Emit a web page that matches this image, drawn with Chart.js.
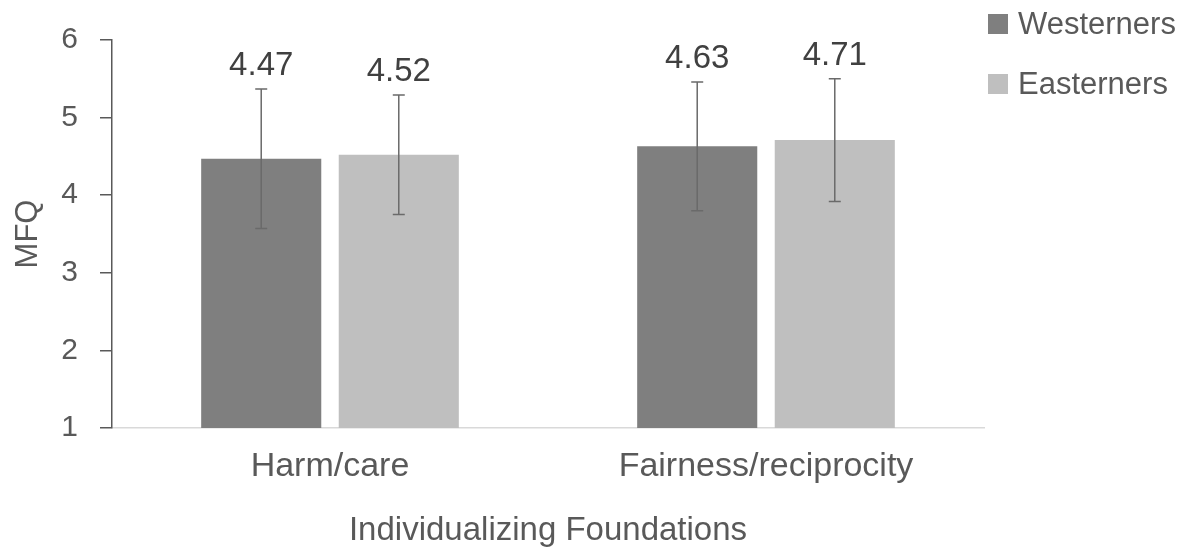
<!DOCTYPE html>
<html>
<head>
<meta charset="utf-8">
<script src="https://cdn.jsdelivr.net/npm/chart.js@4"></script>
<style>
  html, body { margin: 0; padding: 0; background: #ffffff; }
  #wrap { width: 1199px; height: 553px; }
</style>
</head>
<body>
<div id="wrap"><canvas id="chart" width="1199" height="553"></canvas></div>
<script>
// Moral Foundations Questionnaire scores, individualizing foundations
const categories = ['Harm/care', 'Fairness/reciprocity'];
const seriesNames = ['Westerners', 'Easterners'];
const westerners = [4.47, 4.63];
const easterners = [4.52, 4.71];
// standard deviations shown as error bars
const westernersSD = [0.90, 0.83];
const easternersSD = [0.77, 0.79];
const yTicks = [1, 2, 3, 4, 5, 6];

const FONT = "'Liberation Sans', Arial, sans-serif";
const TEXT = '#595959';

// Error bars and value labels drawn through the y scale
const errorBarPlugin = {
  id: 'errorBars',
  afterDatasetsDraw(chart) {
    const { ctx, scales: { y } } = chart;
    chart.data.datasets.forEach((ds, i) => {
      const meta = chart.getDatasetMeta(i);
      meta.data.forEach((bar, j) => {
        const v = ds.data[j];
        const e = ds.errors[j];
        const yTop = y.getPixelForValue(v + e);
        const yBot = y.getPixelForValue(v - e);
        const x = bar.x;
        ctx.save();
        ctx.strokeStyle = '#6a6a6a';
        ctx.lineWidth = 1.5;
        ctx.beginPath();
        ctx.moveTo(x, yTop); ctx.lineTo(x, yBot);
        ctx.moveTo(x - 6, yTop); ctx.lineTo(x + 6, yTop);
        ctx.moveTo(x - 6, yBot); ctx.lineTo(x + 6, yBot);
        ctx.stroke();
        ctx.fillStyle = '#404040';
        ctx.font = '33px ' + FONT;
        ctx.textAlign = 'center';
        ctx.textBaseline = 'middle';
        ctx.fillText(v.toFixed(2), x, yTop - 23);
        ctx.restore();
      });
    });
  }
};

// Legend to the right of the plot
const sideLegend = {
  id: 'sideLegend',
  afterDraw(chart) {
    const { ctx } = chart;
    chart.data.datasets.forEach((ds, i) => {
      const cy = 24 + i * 60;
      ctx.save();
      ctx.fillStyle = ds.backgroundColor;
      ctx.fillRect(988, cy - 10, 20, 20);
      ctx.fillStyle = TEXT;
      ctx.font = '31px ' + FONT;
      ctx.textAlign = 'left';
      ctx.textBaseline = 'middle';
      ctx.fillText(ds.label, 1018, cy + 1);
      ctx.restore();
    });
  }
};

new Chart(document.getElementById('chart'), {
  type: 'bar',
  data: {
    labels: categories,
    datasets: [
      { label: seriesNames[0], data: westerners, errors: westernersSD, backgroundColor: '#7f7f7f',
        categoryPercentage: 0.631, barPercentage: 0.873 },
      { label: seriesNames[1], data: easterners, errors: easternersSD, backgroundColor: '#bfbfbf',
        categoryPercentage: 0.631, barPercentage: 0.873 }
    ]
  },
  options: {
    responsive: false,
    animation: false,
    layout: { padding: { left: 0, right: 215, top: 40, bottom: 0 } },
    plugins: {
      legend: { display: false },
      tooltip: { enabled: false }
    },
    scales: {
      x: {
        grid: { display: false, drawTicks: false },
        border: { display: true, color: '#d9d9d9', width: 1.5 },
        ticks: { color: TEXT, font: { family: FONT, size: 34 }, padding: 18 },
        title: { display: true, text: 'Individualizing Foundations', color: TEXT,
                 font: { family: FONT, size: 33 }, padding: { top: 0, bottom: 2 } },
        afterFit(scale) { scale.height = 125; }
      },
      y: {
        min: 1, max: 6,
        afterBuildTicks(scale) { scale.ticks = yTicks.map(v => ({ value: v })); },
        grid: { drawOnChartArea: false, drawTicks: true, tickLength: 12, color: '#595959', lineWidth: 1.5 },
        border: { display: true, color: '#595959', width: 1.5 },
        ticks: { color: TEXT, font: { family: FONT, size: 30 }, padding: 22 },
        title: { display: true, text: 'MFQ', color: TEXT,
                 font: { family: FONT, size: 31 }, padding: { top: 10, bottom: 0 } },
        afterFit(scale) { scale.width = 112; }
      }
    }
  },
  plugins: [errorBarPlugin, sideLegend]
});
</script>
</body>
</html>
